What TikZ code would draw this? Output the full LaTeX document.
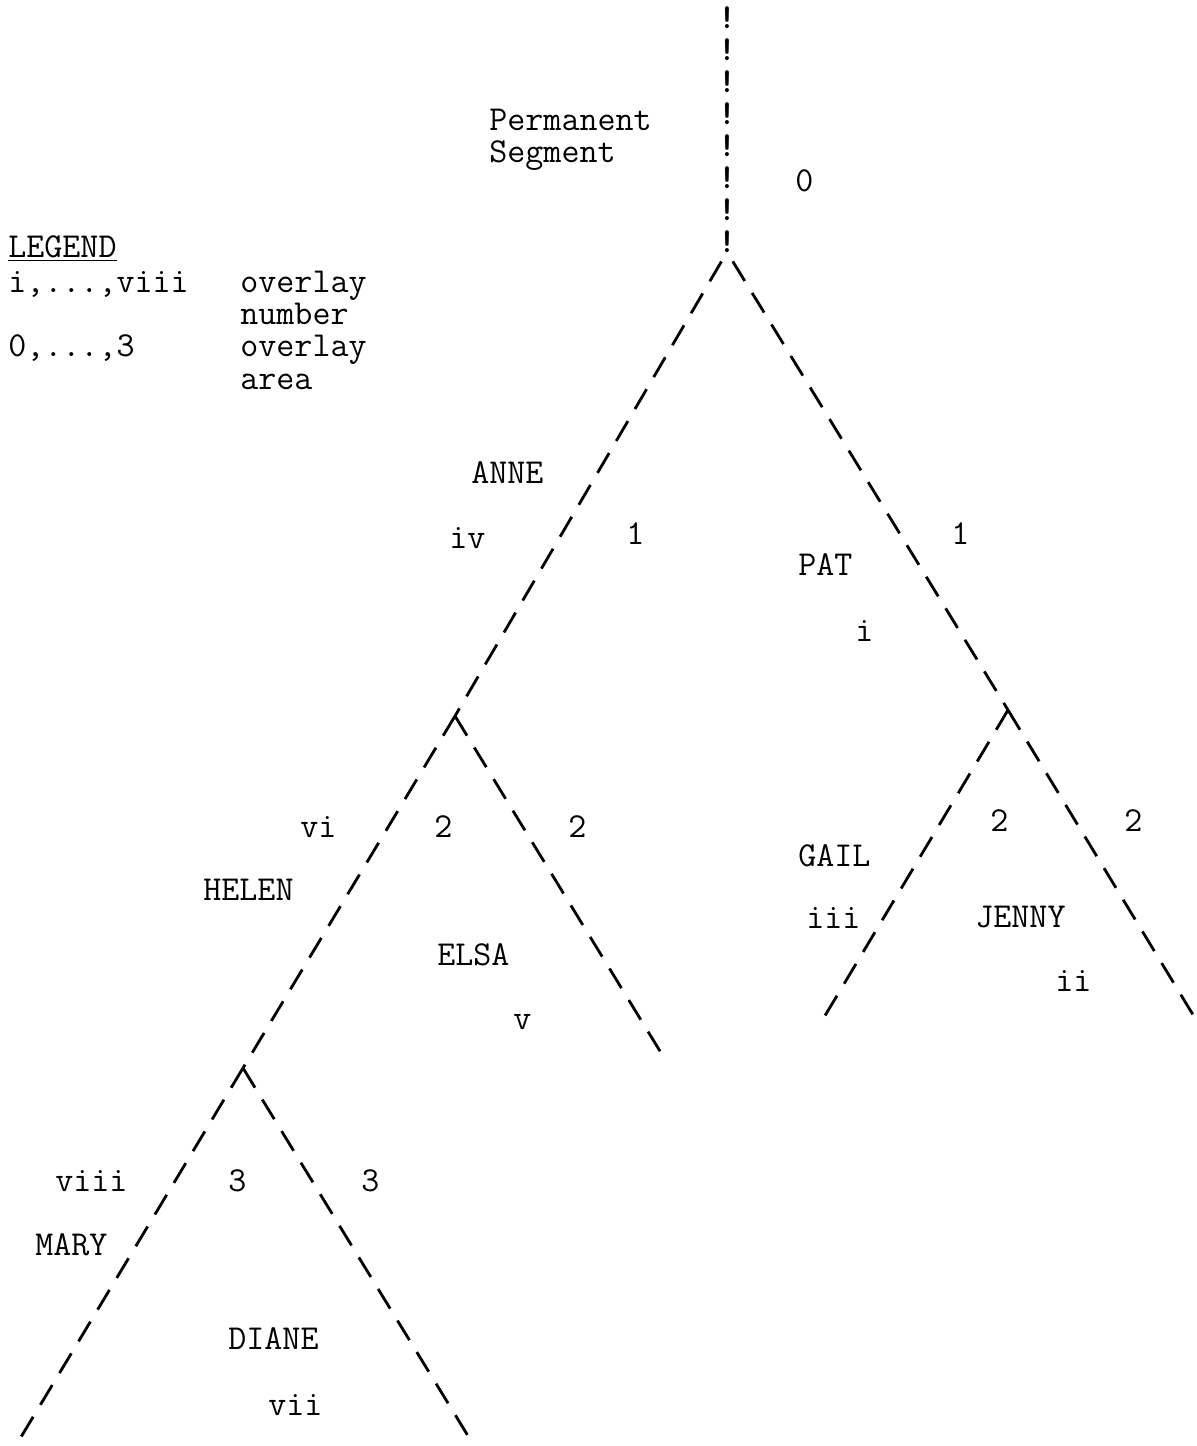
\documentclass[tikz,border=0pt]{standalone}
\usepackage{fontspec}
\begin{document}
\begin{tikzpicture}[x=0.5pt,y=-0.5pt,
  lbl/.style={anchor=base west,inner sep=0pt,font=\fontsize{17.5}{20}\selectfont\ttfamily},
  bangs/.style={anchor=south,inner sep=0pt,align=center,font=\fontsize{17.5}{16}\selectfont\ttfamily\bfseries},
  branch/.style={line width=1.4pt,dash pattern=on 11.5pt off 7pt},
  topbranch/.style={branch,dash phase=13pt}]
\useasboundingbox (0,0) rectangle (1196,1446);
% exclamation column (permanent segment)
\node[bangs] (perseg) at (727,253) {!\\!\\!\\!\\!\\!\\!\\!};
% tree points
\coordinate (root) at (727,252);
\coordinate (sA) at (455,716);
\coordinate (sB) at (243,1068);
\coordinate (sC) at (1008,710);
\coordinate (endL) at (18,1442);
\coordinate (endD) at (473,1444);
\coordinate (endE) at (663,1056);
\coordinate (endG) at (820,1024);
\coordinate (endR) at (1198,1023);
% connectors
\draw[topbranch] (root) -- (sA);
\draw[branch] (sA) -- (sB);
\draw[branch] (sB) -- (endL);
\draw[branch] (sB) -- (endD);
\draw[branch] (sA) -- (endE);
\draw[topbranch] (root) -- (sC);
\draw[branch] (sC) -- (endR);
\draw[branch] (sC) -- (endG);
% labels
\node[lbl] (perm) at (489,130) {Permanent};
\node[lbl] (seg) at (489,162) {Segment};
\node[lbl] (a0) at (795,191) {0};
\node[lbl] (leg) at (8,257) {\underline{LEGEND}};
\node[lbl] (leg1) at (8,292) {i,...,viii};
\node[lbl] (leg1a) at (240,292) {overlay};
\node[lbl] (leg1b) at (240,324) {number};
\node[lbl] (leg2) at (8,356) {0,...,3};
\node[lbl] (leg2a) at (240,356) {overlay};
\node[lbl] (leg2b) at (240,389) {area};
\node[lbl] (anne) at (471,483) {ANNE};
\node[lbl] (iv) at (449,548) {iv};
\node[lbl] (a1l) at (626,544) {1};
\node[lbl] (a1r) at (951,544) {1};
\node[lbl] (pat) at (798,575) {PAT};
\node[lbl] (i) at (855,641) {i};
\node[lbl] (vi) at (300,837) {vi};
\node[lbl] (a2a) at (434,837) {2};
\node[lbl] (a2b) at (568,837) {2};
\node[lbl] (helen) at (203,900) {HELEN};
\node[lbl] (elsa) at (437,965) {ELSA};
\node[lbl] (v) at (513,1029) {v};
\node[lbl] (gail) at (798,866) {GAIL};
\node[lbl] (iii) at (806,928) {iii};
\node[lbl] (a2c) at (990,831) {2};
\node[lbl] (a2d) at (1124,831) {2};
\node[lbl] (jenny) at (975,927) {JENNY};
\node[lbl] (ii) at (1055,991) {ii};
\node[lbl] (viii) at (55,1191) {viii};
\node[lbl] (a3a) at (228,1191) {3};
\node[lbl] (a3b) at (361,1191) {3};
\node[lbl] (mary) at (35,1255) {MARY};
\node[lbl] (diane) at (228,1349) {DIANE};
\node[lbl] (vii) at (268,1415) {vii};
\end{tikzpicture}
\end{document}
